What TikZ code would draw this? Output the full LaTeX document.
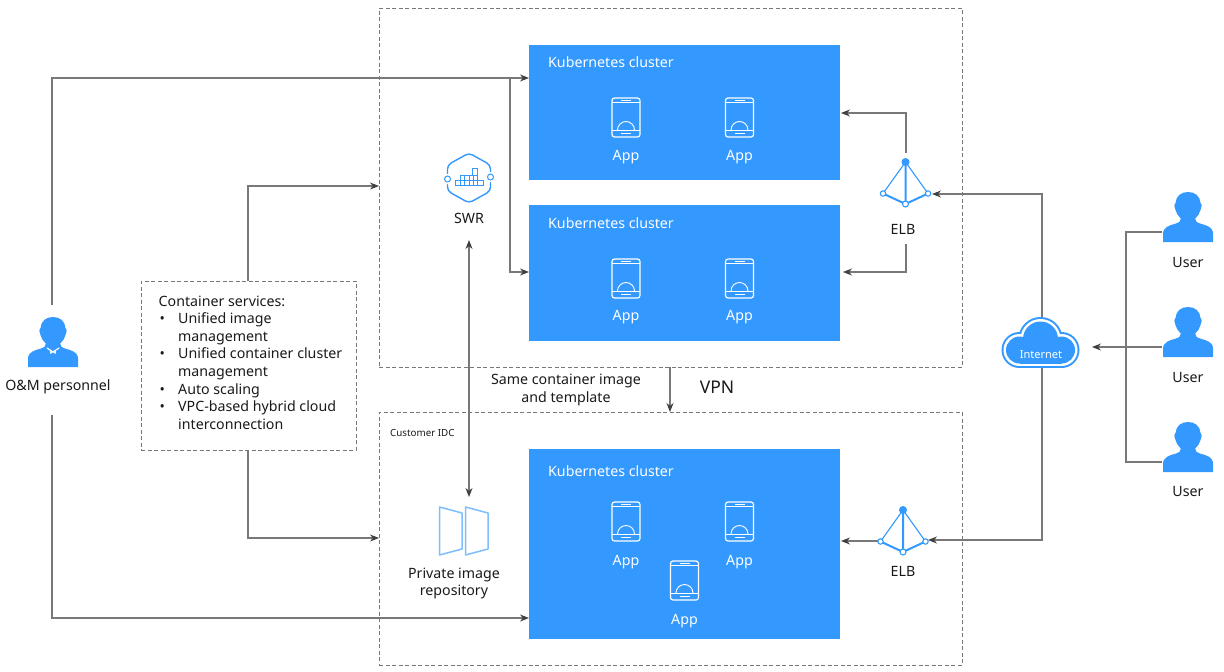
\documentclass[tikz,border=0pt]{standalone}
\usepackage{fontspec}
\setmainfont{Noto Sans}
\usetikzlibrary{arrows.meta,calc}
\definecolor{hwblue}{HTML}{3399FF}
\definecolor{hwlight}{HTML}{7FBFFF}
\definecolor{lineg}{HTML}{787878}
\definecolor{tipg}{HTML}{404040}
\definecolor{txt}{HTML}{1A1A1A}
\tikzset{
 x=1pt,y=-1pt,
 lbl/.style={font=\fontsize{14.2}{17.6}\selectfont,text=txt,inner sep=0pt,align=center},
 wlbl/.style={font=\fontsize{14.2}{17.6}\selectfont,text=white,inner sep=0pt,align=center},
 zone/.style={draw=lineg,line width=0.8pt,dash pattern=on 4pt off 2.5pt,inner sep=0pt,anchor=north west},
 cluster/.style={fill=hwblue,inner sep=0pt,anchor=north west},
 holder/.style={inner sep=0pt},
 link/.style={draw=lineg,line width=1.1pt},
 arr/.style={link,-{Stealth[length=9pt,width=7pt,color=tipg]}},
 darr/.style={link,{Stealth[length=9pt,width=7pt,color=tipg]}-{Stealth[length=9pt,width=7pt,color=tipg]}},
 phone/.pic={
  \draw[white,line width=1.2pt,rounded corners=2.5pt] (-14,-19.5) rectangle (14,19.5);
  \draw[white,line width=0.8pt] (-14,-15) -- (14,-15) (-14,12.5) -- (14,12.5);
  \draw[white,line width=0.8pt] (-5,-17.3) -- (5,-17.3) (-5,15.5) -- (5,15.5);
  \draw[white,line width=0.9pt] (-8.5,12.5) arc[start angle=180,end angle=360,radius=8.5];
 },
 swricon/.pic={
  \draw[hwblue,line width=1.4pt,rounded corners=4pt] (0,-25) -- (21.5,-13) -- (21.5,13) -- (0,25) -- (-21.5,13) -- (-21.5,-13) -- cycle;
  \fill[white] (-24,-4) rectangle (-19,6) (19,-6) rectangle (24,4);
  \draw[hwblue,line width=1pt,fill=white] (-21.5,1) circle[radius=3] (21.5,-1) circle[radius=3];
  \draw[hwblue,line width=0.8pt,fill=white] (3,-10) rectangle (8,-3) (-9,-3) rectangle (8,2) (-14,2) rectangle (14,7);
  \draw[hwblue,line width=0.7pt] (-9,2) -- (-9,7) (-4.5,-3) -- (-4.5,7) (0,-3) -- (0,7) (4,-3) -- (4,7) (8,2) -- (8,7);
 },
 elbicon/.pic={
  \draw[hwblue,line width=1.1pt] (0,-21) -- (-22.5,10.5) (0,-21) -- (22.5,10.5);
  \draw[hwblue,line width=2pt] (0,-21) -- (0,21) (-22.5,10.5) -- (0,21) -- (22.5,10.5);
  \fill[hwblue] (0,-21) circle[radius=4];
  \draw[hwblue,line width=1.1pt,fill=white] (-22.5,10.5) circle[radius=2.7] (22.5,10.5) circle[radius=2.7] (0,21) circle[radius=3];
 },
 usericon/.pic={
  \fill[hwblue] (-25,25) -- (-25,17) .. controls (-25,10) and (-19,8.5) .. (-12,6.5)
    .. controls (-8,5.5) and (-7,3) .. (-7,0.5) -- (7,0.5) .. controls (7,3) and (8,5.5) .. (12,6.5)
    .. controls (19,8.5) and (25,10) .. (25,17) -- (25,25) -- cycle;
  \fill[hwblue] (-12.5,-14) .. controls (-12,-21) and (-7,-25) .. (0,-25)
    .. controls (7,-25) and (12,-21) .. (12.5,-14)
    .. controls (14,-13) and (14,-9) .. (12.5,-7)
    .. controls (11,-1) and (6,4) .. (0,4)
    .. controls (-6,4) and (-11,-1) .. (-12.5,-7)
    .. controls (-14,-9) and (-14,-13) .. (-12.5,-14) -- cycle;
 },
 omicon/.pic={
  \pic {usericon};
  \draw[white,line width=1.2pt,line cap=round] (-6,6) -- (0,10) -- (6,6);
  \fill[white] (-3,9) -- (-2.5,12) -- (0,10) -- (2.5,12) -- (3,9) -- (0,10) -- cycle;
 },
 repoicon/.pic={
  \draw[hwlight,line width=1.5pt,line join=round] (-24.5,-24) -- (-2,-18) -- (-2,18) -- (-24.5,24) -- cycle;
  \draw[hwlight,line width=1.5pt,line join=round] (1.5,-24) -- (24,-18) -- (24,18) -- (1.5,24) -- cycle;
 },
 cloudicon/.pic={
  \foreach \c/\d in {hwblue/0,white/2,hwblue/4.5}{
   \fill[\c] (0,-3.5) circle[radius=22-\d] (-21,7.5) circle[radius=18-\d] (21,7.5) circle[radius=18-\d];
   \fill[\c] (-21,7.5) rectangle (21,25.5-\d);
  }
 },
}
\begin{document}
\begin{tikzpicture}
\useasboundingbox[fill=white] (0,0) rectangle (1224,672);

% zones
\node[zone,minimum width=583pt,minimum height=359pt] (cloudzone) at (379,8) {};
\node[zone,minimum width=583pt,minimum height=253pt] (idc) at (379,412) {};
\node[anchor=west,font=\fontsize{9.8}{11}\selectfont,text=txt,inner sep=0pt] (idclabel) at (390,433) {Customer IDC};

% clusters
\node[cluster,minimum width=311pt,minimum height=135pt] (k1) at (529,45) {};
\node[cluster,minimum width=311pt,minimum height=136pt] (k2) at (529,205) {};
\node[cluster,minimum width=311pt,minimum height=190pt] (k3) at (529,449) {};
\node[wlbl,anchor=west] (k1t) at (548,62.5) {Kubernetes cluster};
\node[wlbl,anchor=west] (k2t) at (548,223.5) {Kubernetes cluster};
\node[wlbl,anchor=west] (k3t) at (548,471) {Kubernetes cluster};

% apps
\pic at (626,117.5) {phone}; \node[wlbl] (a1) at (626,157) {App};
\pic at (739.5,117.5) {phone}; \node[wlbl] (a2) at (739.5,157) {App};
\pic at (626,278.5) {phone}; \node[wlbl] (a3) at (626,317) {App};
\pic at (739.5,278.5) {phone}; \node[wlbl] (a4) at (739.5,317) {App};
\pic at (626,521.5) {phone}; \node[wlbl] (a5) at (626,562) {App};
\pic at (739.5,521.5) {phone}; \node[wlbl] (a6) at (739.5,562) {App};
\pic at (684.5,580.5) {phone}; \node[wlbl] (a7) at (684.5,621) {App};

% icons
\node[holder,minimum width=46pt,minimum height=50pt] (swr) at (469,178) {};
\pic at (469,178) {swricon};
\node[lbl] (swrl) at (469,218) {SWR};
\node[holder,minimum width=52pt,minimum height=50pt] (repo) at (464,531) {};
\pic at (464,531) {repoicon};
\node[lbl] (repol) at (454,583.5) {Private image\\repository};
\node[holder,minimum width=52pt,minimum height=52pt] (elb1) at (905.5,183) {};
\pic at (905.5,183) {elbicon};
\node[lbl] (elb1l) at (903,229) {ELB};
\node[holder,minimum width=52pt,minimum height=52pt] (elb2) at (903,531) {};
\pic at (903,531) {elbicon};
\node[lbl] (elb2l) at (903,571.5) {ELB};
\node[holder,minimum width=78pt,minimum height=52pt] (net) at (1040.5,342.5) {};
\pic at (1040.5,342.5) {cloudicon};
\node[font=\fontsize{11}{12}\selectfont,text=white,inner sep=0pt] (netl) at (1041,355) {Internet};
\node[holder,minimum width=50pt,minimum height=50pt] (u1) at (1188,217) {};
\pic at (1188,217) {usericon};
\node[lbl] (u1l) at (1188,262.5) {User};
\node[holder,minimum width=50pt,minimum height=50pt] (u2) at (1188,332) {};
\pic at (1188,332) {usericon};
\node[lbl] (u2l) at (1188,377) {User};
\node[holder,minimum width=50pt,minimum height=50pt] (u3) at (1188,447) {};
\pic at (1188,447) {usericon};
\node[lbl] (u3l) at (1188,491.5) {User};
\node[holder,minimum width=50pt,minimum height=52pt] (om) at (53,342) {};
\pic at (53,342) {omicon};
\node[lbl] (oml) at (58,387) {O\&M personnel};

% services box
\node[draw=lineg,line width=0.8pt,dash pattern=on 4pt off 2.5pt,inner sep=0pt,minimum width=215pt,minimum height=169pt] (svc) at (248.5,365.5) {};
\node[lbl,align=left,anchor=west] (svct) at (158.5,362.5) {Container services:\\
\makebox[19.5pt][l]{\hspace{1pt}•}Unified image\\
\hspace*{19.5pt}management\\
\makebox[19.5pt][l]{\hspace{1pt}•}Unified container cluster\\
\hspace*{19.5pt}management\\
\makebox[19.5pt][l]{\hspace{1pt}•}Auto scaling\\
\makebox[19.5pt][l]{\hspace{1pt}•}VPC-based hybrid cloud\\
\hspace*{19.5pt}interconnection};

% middle labels
\node[lbl] (same) at (566,390) {Same container image\\and template};
\node[font=\fontsize{17.5}{20}\selectfont,text=txt,inner sep=0pt] (vpn) at (717,387) {VPN};

% connector ends
\coordinate (k1in) at (529,78);
\coordinate (branch) at (510,78);
\coordinate (k2in) at (529,272);
\coordinate (k3in) at (529,618);
\coordinate (om1) at (52,305);
\coordinate (om2) at (52,415);
\coordinate (svcin1) at (379,186);
\coordinate (svcin2) at (379,538);
\coordinate (svcup) at (248,281);
\coordinate (svcdn) at (248,450);
\coordinate (swrb) at (469,240);
\coordinate (repot) at (469,497);
\coordinate (vpna) at (670,367);
\coordinate (vpnb) at (670,412);
\coordinate (e1a) at (906,153);
\coordinate (k1e) at (841,113);
\coordinate (e1b) at (906,244);
\coordinate (k2e) at (843,272);
\coordinate (neta) at (1042,317);
\coordinate (e1r) at (932,194);
\coordinate (netb) at (1042,368);
\coordinate (e2r) at (928,540);
\coordinate (e2l) at (878,541);
\coordinate (k3e) at (841,541);
\coordinate (u1w) at (1162,232);
\coordinate (u3w) at (1162,462);
\coordinate (ubus) at (1126,232);
\coordinate (u2w) at (1162,347);
\coordinate (netr) at (1092,347);

% connectors
\draw[arr] (om1) |- (k1in);
\draw[arr] (branch) |- (k2in);
\draw[arr] (om2) |- (k3in);
\draw[arr] (svcup) |- (svcin1);
\draw[arr] (svcdn) |- (svcin2);
\draw[darr] (swrb) -- (repot);
\draw[arr] (vpna) -- (vpnb);
\draw[arr] (e1a) |- (k1e);
\draw[arr] (e1b) |- (k2e);
\draw[arr] (neta) |- (e1r);
\draw[arr] (netb) |- (e2r);
\draw[arr] (e2l) -- (k3e);
\draw[link] (u1w) -- (ubus) |- (u3w);
\draw[arr] (u2w) -- (netr);
\end{tikzpicture}
\end{document}
